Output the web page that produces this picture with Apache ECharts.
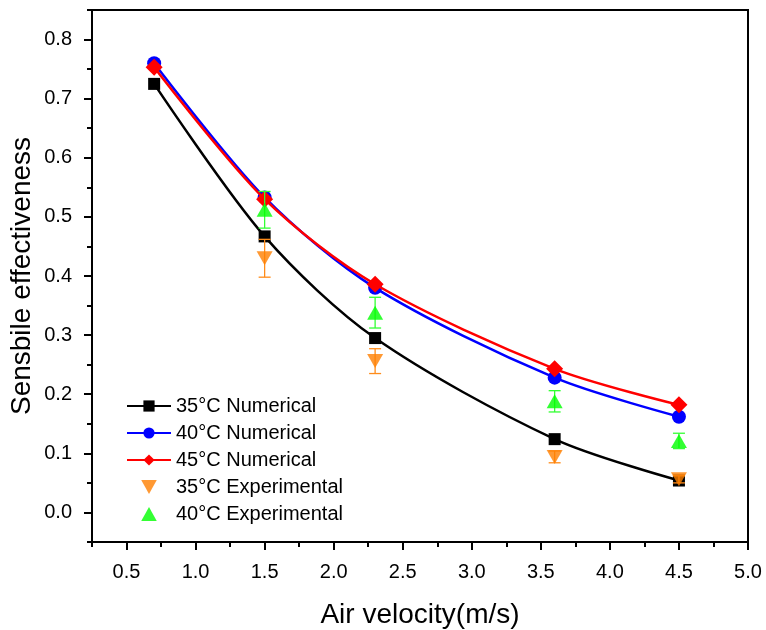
<!DOCTYPE html>
<html>
<head>
<meta charset="utf-8">
<script src="https://cdn.jsdelivr.net/npm/echarts@6/dist/echarts.min.js"></script>
<style>html,body{margin:0;padding:0;background:#fff}#c{width:766px;height:630px}</style>
</head>
<body>
<div id="c"></div>
<script>
var velocity = [0.7, 1.5, 2.3, 3.6, 4.5];
var num35 = [0.725, 0.467, 0.295, 0.124, 0.054];
var num40 = [0.760, 0.533, 0.380, 0.228, 0.162];
var num45 = [0.753, 0.530, 0.386, 0.243, 0.182];
var expVelocity = [1.5, 2.3, 3.6, 4.5];
var exp35 = [0.430, 0.256, 0.094, 0.056];
var exp35Err = [0.032, 0.021, 0.010, 0.006];
var exp40 = [0.512, 0.338, 0.188, 0.121];
var exp40Err = [0.031, 0.026, 0.018, 0.013];
var yTicks = [0.0, 0.1, 0.2, 0.3, 0.4, 0.5, 0.6, 0.7, 0.8];
var yMinorTicks = [-0.05, 0.05, 0.15, 0.25, 0.35, 0.45, 0.55, 0.65, 0.75, 0.85];
var xTicks = [0.5, 1.0, 1.5, 2.0, 2.5, 3.0, 3.5, 4.0, 4.5, 5.0];
var xMinorTicks = [0.25, 0.75, 1.25, 1.75, 2.25, 2.75, 3.25, 3.75, 4.25, 4.75];

var FONT = 'Liberation Sans, Arial, sans-serif';
function pairs(xs, ys){ return xs.map(function(x,i){ return [x, ys[i]]; }); }
function errData(xs, ys, es){ return xs.map(function(x,i){ return [x, ys[i], ys[i]-es[i], ys[i]+es[i]]; }); }
function errRender(color){
  return function(params, api){
    var x = api.value(0);
    var pHi = api.coord([x, api.value(3)]);
    var pLo = api.coord([x, api.value(2)]);
    var w = 6;
    var st = {stroke: color, lineWidth: 1.3};
    return {type:'group', children:[
      {type:'line', shape:{x1:pHi[0], y1:pHi[1], x2:pLo[0], y2:pLo[1]}, style: st},
      {type:'line', shape:{x1:pHi[0]-w, y1:pHi[1], x2:pHi[0]+w, y2:pHi[1]}, style: st},
      {type:'line', shape:{x1:pLo[0]-w, y1:pLo[1], x2:pLo[0]+w, y2:pLo[1]}, style: st}
    ]};
  };
}
var downTri = 'path://M0,0 L10,0 L5,9 Z';
var upTri = 'path://M5,0 L10,9 L0,9 Z';

var axisLineStyle = {color:'#000', width:2};
var chart = echarts.init(document.getElementById('c'), null, {renderer:'canvas'});
chart.setOption({
  animation: false,
  backgroundColor: '#fff',
  grid: {left: 92, right: 18, top: 10, bottom: 88, show: true, borderColor: '#000', borderWidth: 2,
         containLabel: false, outerBoundsMode: 'none'},
  legend: {
    data: ['35°C Numerical','40°C Numerical','45°C Numerical','35°C Experimental','40°C Experimental'],
    orient: 'vertical', left: 121, top: 391,
    itemWidth: 44, itemHeight: 14, itemGap: 7,
    textStyle: {fontFamily: FONT, fontSize: 20, lineHeight: 20, color: '#000'}
  },
  xAxis: [{
    type: 'value', min: 0.25, max: 5.0,
    name: 'Air velocity(m/s)', nameLocation: 'middle', nameGap: 59, nameMoveOverlap: false,
    nameTextStyle: {fontFamily: FONT, fontSize: 28, color: '#000'},
    axisLine: {onZero: false, lineStyle: axisLineStyle},
    axisTick: {show: true, inside: false, length: 8, lineStyle: {width: 2, color: '#000'}, customValues: xTicks},
    axisLabel: {fontFamily: FONT, fontSize: 20, color: '#000', margin: 20, customValues: xTicks,
      formatter: function(v){ return v.toFixed(1); }},
    splitLine: {show: false}
  },{
    type: 'value', min: 0.25, max: 5.0, position: 'bottom',
    axisLine: {show: false, onZero: false},
    axisTick: {show: true, length: 5, lineStyle: {width: 2, color: '#000'}, customValues: xMinorTicks},
    axisLabel: {show: false}, splitLine: {show: false}
  }],
  yAxis: [{
    type: 'value', min: -0.05, max: 0.85,
    name: 'Sensbile effectiveness', nameLocation: 'middle', nameGap: 56, nameMoveOverlap: false,
    nameTextStyle: {fontFamily: FONT, fontSize: 28, color: '#000'},
    axisLine: {onZero: false, lineStyle: axisLineStyle},
    axisTick: {show: true, inside: false, length: 8, lineStyle: {width: 2, color: '#000'}, customValues: yTicks},
    axisLabel: {fontFamily: FONT, fontSize: 20, color: '#000', margin: 20, customValues: yTicks,
      formatter: function(v){ return v.toFixed(1); }},
    splitLine: {show: false}
  },{
    type: 'value', min: -0.05, max: 0.85, position: 'left',
    axisLine: {show: false, onZero: false},
    axisTick: {show: true, length: 5, lineStyle: {width: 2, color: '#000'}, customValues: yMinorTicks},
    axisLabel: {show: false}, splitLine: {show: false}
  }],
  series: [
    {name: '35°C Numerical', type: 'line', smooth: 0.3, data: pairs(velocity, num35),
     symbol: 'rect', symbolSize: 12, color: '#000', lineStyle: {width: 2.5, color: '#000'}, itemStyle: {color: '#000'}, z: 3},
    {name: '40°C Numerical', type: 'line', smooth: 0.3, data: pairs(velocity, num40),
     symbol: 'circle', symbolSize: 14, color: '#0000ff', lineStyle: {width: 2.5, color: '#0000ff'}, itemStyle: {color: '#0000ff'}, z: 4},
    {name: '45°C Numerical', type: 'line', smooth: 0.3, data: pairs(velocity, num45),
     symbol: 'diamond', symbolSize: 17, color: '#ff0000', lineStyle: {width: 2.5, color: '#ff0000'}, itemStyle: {color: '#ff0000'}, z: 5},
    {type: 'custom', renderItem: errRender('#ff8c1a'), data: errData(expVelocity, exp35, exp35Err), z: 6, silent: true},
    {type: 'custom', renderItem: errRender('#33ff33'), data: errData(expVelocity, exp40, exp40Err), z: 6, silent: true},
    {name: '35°C Experimental', type: 'scatter', data: pairs(expVelocity, exp35),
     symbol: downTri, symbolSize: [16, 14], color: '#ff8000', itemStyle: {color: '#ff8000'}, z: 7},
    {name: '40°C Experimental', type: 'scatter', data: pairs(expVelocity, exp40),
     symbol: upTri, symbolSize: [16, 14], color: '#00ff00', itemStyle: {color: '#00ff00'}, z: 7}
  ]
});
</script>
</body>
</html>
